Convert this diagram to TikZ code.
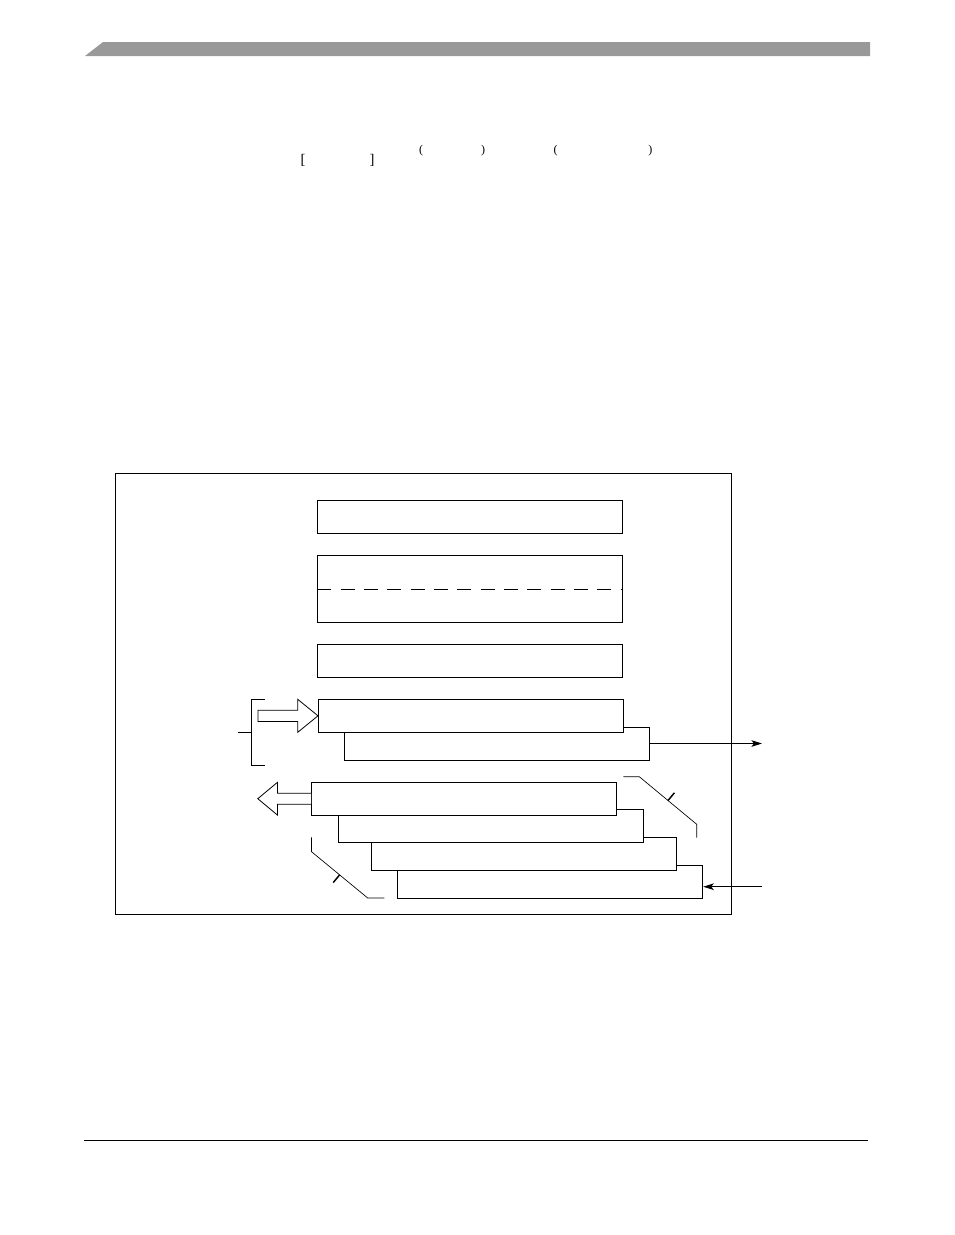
\documentclass[tikz,border=0pt]{standalone}
\usepackage{fontspec}
\setmainfont{Liberation Serif}
\usetikzlibrary{arrows.meta,calc}
\tikzset{
  regbox/.style={draw, fill=white, line width=0.75pt, inner sep=0pt,
    minimum width=228.75pt, minimum height=24.75pt},
  widebox/.style={regbox, minimum height=50.25pt},
  sig/.style={line width=0.75pt, -{Stealth[length=8pt,width=5pt,inset=2pt]}},
  hollow/.style={draw, fill=white, line width=0.6pt, line join=miter},
  brace/.style={line width=0.75pt},
  slant/.style={line width=0.5pt},
  tickmark/.style={line width=1.1pt},
  bigbrk/.style={font=\fontsize{11}{13}\selectfont, inner sep=0pt},
  smallbrk/.style={font=\fontsize{9}{11}\selectfont, inner sep=0pt},
}
\begin{document}
\begin{tikzpicture}[x=0.75pt,y=-0.75pt]
\useasboundingbox (0,0) rectangle (954,1235);
% page header bar and footer rule
\fill[black!40] (85,56) -- (103,42) -- (870,42) -- (870,56) -- cycle;
\draw[line width=1pt] (84,1140.3) -- (868.3,1140.3);
% brackets left of the text
\node[bigbrk] (lbrk) at (303,160) {[};
\node[bigbrk] (rbrk) at (372,160) {]};
\node[smallbrk] (lpar1) at (421,151) {(};
\node[smallbrk] (rpar1) at (483,151) {)};
\node[smallbrk] (lpar2) at (555.5,151) {(};
\node[smallbrk] (rpar2) at (650.4,151) {)};
% outer frame
\draw[line width=0.75pt] (115.7,473.3) rectangle (731.4,914.3);
% upper registers
\node[regbox] (topreg) at (470.4,516.7) {};
\node[widebox] (midreg) at (470.4,589) {};
\draw[line width=0.75pt, dash pattern=on 10.5pt off 7pt] (midreg.west) -- (midreg.east);
\node[regbox] (lowreg) at (470.4,660.7) {};
% transmit pair
\node[regbox] (txshift) at (496.8,743.5) {};
\node[regbox] (txbuf) at (471,715.8) {};
% receive stack, back to front
\node[regbox] (rxfifod) at (550.2,881.7) {};
\node[regbox] (rxfifoc) at (524,854) {};
\node[regbox] (rxfifob) at (490.8,826.3) {};
\node[regbox] (rxfifoa) at (464,798.7) {};
% hollow arrow into txbuf
\draw[hollow] (txbuf.west) -- ++(-20.3,-16.5) -- ++(0,10.9) -- ++(-39.7,0)
  -- ++(0,11.2) -- ++(39.7,0) -- ++(0,10.9) -- cycle;
% hollow arrow out of rxfifoa
\draw[hollow] ($(rxfifoa.west)+(0,-5.5)$) -- ++(-33.5,0) -- ++(0,-10.9)
  -- ++(-19.7,16.4) -- ++(19.7,16.4) -- ++(0,-10.9) -- ++(33.5,0);
% bracket left of the transmit pair
\draw[brace] (264.6,699.3) -- (251.4,699.3) -- (251.4,765.3) -- (264.6,765.3);
\draw[brace] (237.9,732.3) -- (251.4,732.3);
% serial out and serial in
\coordinate (txout) at (762,743.5);
\coordinate (rxin) at (762,886.7);
\draw[sig] (txshift.east) -- (txout);
\draw[sig] (rxin) -- (rxfifod.east |- rxin);
% slanted bracket right of the stack
\draw[slant] (623.3,776.7) -- (639.3,776.7) -- (696.7,824.3) -- (696.7,837.7);
\draw[tickmark] (668,800.5) -- ++(6.4,-7.7);
% slanted bracket left of the stack
\draw[slant] (311.5,837.3) -- (311.5,851.7) -- (367.7,898) -- (384.3,898);
\draw[tickmark] (339.6,874.9) -- ++(-6.4,7.7);
\end{tikzpicture}
\end{document}
